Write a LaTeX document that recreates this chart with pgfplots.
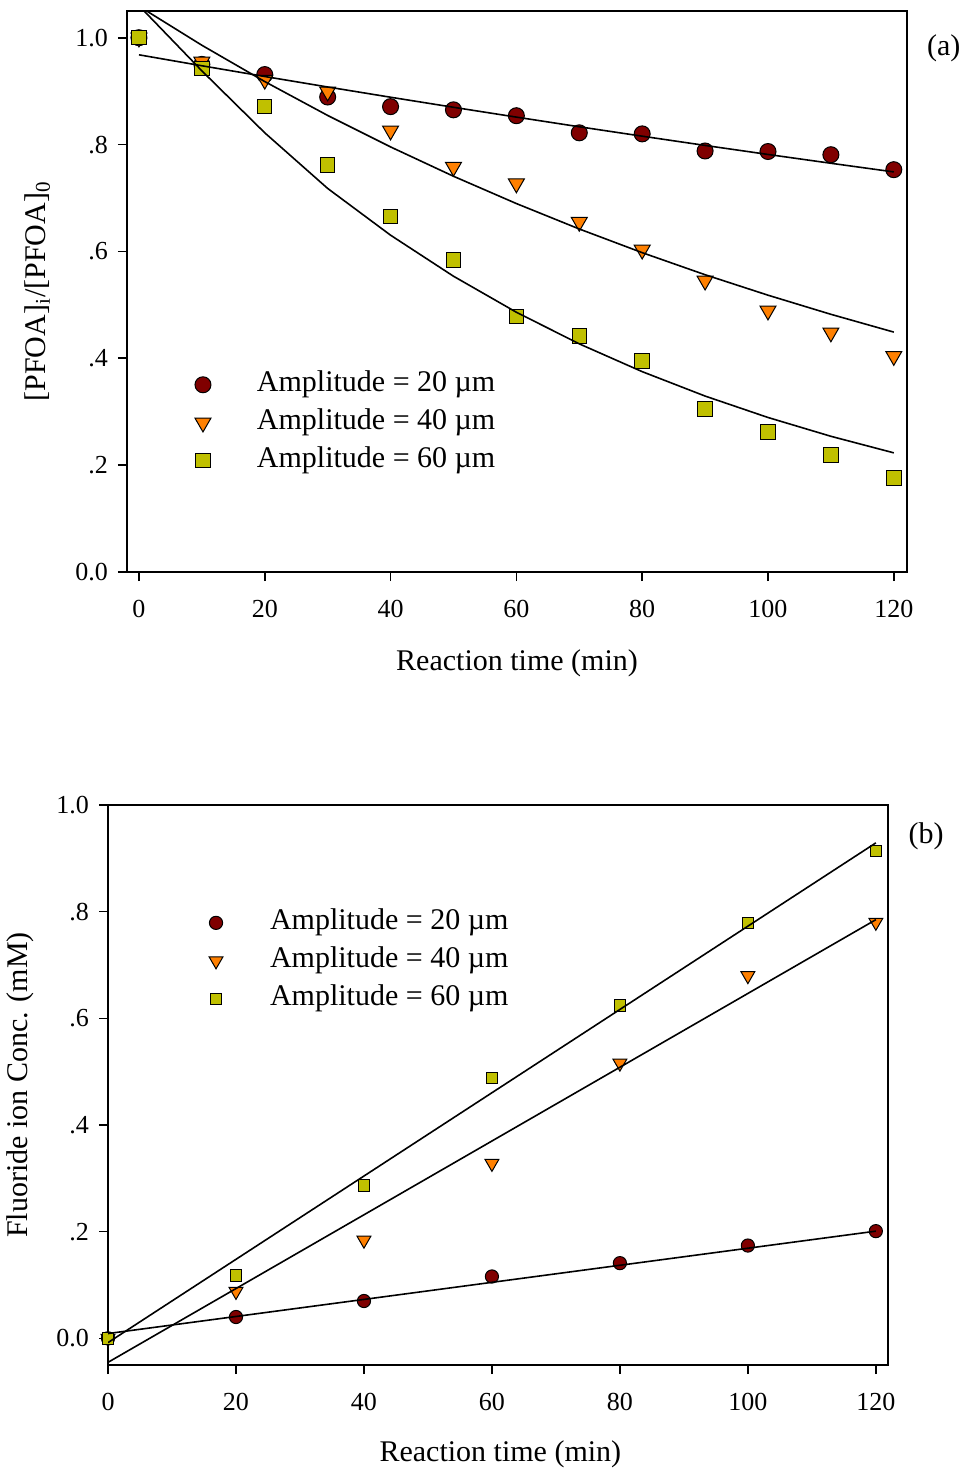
\documentclass[border=0pt]{standalone}
\usepackage{fontspec}
\setmainfont{Liberation Serif}
\usepackage{pgfplots}
\pgfplotsset{compat=1.18}
\definecolor{cred}{RGB}{128,0,0}
\definecolor{corange}{RGB}{255,128,0}
\definecolor{cyellow}{RGB}{192,192,0}

\pgfplotstableread{
x c t s
0 1.000 1.000 1.000
10 0.950 0.955 0.942
20 0.931 0.921 0.871
30 0.889 0.899 0.762
40 0.871 0.826 0.665
50 0.865 0.758 0.584
60 0.854 0.727 0.478
70 0.822 0.655 0.442
80 0.820 0.603 0.395
90 0.788 0.545 0.305
100 0.787 0.489 0.262
110 0.781 0.448 0.219
120 0.753 0.404 0.176
}\toptable

\pgfplotstableread{
x f20 f40 f60
0 0.968 1.059 1.060
10 0.9475 0.9859 0.938
20 0.9274 0.9179 0.822
30 0.9078 0.8545 0.7179
40 0.8886 0.7956 0.6304
50 0.8698 0.7407 0.5536
60 0.8514 0.6896 0.4862
70 0.8333 0.6420 0.4270
80 0.8157 0.5977 0.3750
90 0.7984 0.5564 0.3293
100 0.7815 0.5181 0.2892
110 0.7650 0.4823 0.2540
120 0.7488 0.4490 0.2230
}\topfit

\pgfplotstableread{
x c t s
0 0.000 0.000 0.000
20 0.040 0.088 0.118
40 0.070 0.184 0.287
60 0.116 0.328 0.488
80 0.141 0.516 0.624
100 0.174 0.680 0.779
120 0.201 0.780 0.914
}\bottable

\pgfplotstableread{
x f20 f40 f60
0 0.009 -0.045 -0.008
120 0.201 0.785 0.929
}\botfit

\pgfplotsset{
 common/.style={
  scale only axis, width=390pt, clip mode=individual,
  axis line style={line width=0.9pt},
  every tick/.style={black, line width=0.8pt},
  tick align=outside, major tick length=4.5pt,
  xtick pos=bottom, ytick pos=left,
  xtick={0,20,40,60,80,100,120},
  xticklabels={0,20,40,60,80,100,120},
  ytick={0,0.2,0.4,0.6,0.8,1.0},
  yticklabels={0.0,.2,.4,.6,.8,1.0},
  tick label style={font=\fontsize{13}{15}\selectfont},
  xticklabel style={yshift=-6pt},
  yticklabel style={xshift=-1.5pt},
  label style={font=\fontsize{15}{18}\selectfont},
  legend style={draw=none, fill=none, inner sep=0pt, outer sep=0pt,
    row sep=5pt, font=\fontsize{15}{18}\selectfont,
    nodes={inner sep=0pt, text height=10.5pt, text depth=3.5pt}},
  legend cell align=left,
  legend image code/.code={\path[draw=none] (-8.5pt,0pt) -- (27pt,0pt); \draw[##1] plot[only marks] coordinates {(0pt,0pt)};},
 },
 fitline/.style={black, line width=0.8pt, no markers, forget plot},
}

\begin{document}
\begin{tikzpicture}
\useasboundingbox (0,0) rectangle (483pt,-735pt);
\begin{axis}[common, height=280.5pt,
  at={(63.5pt,-5.5pt)}, anchor=north west,
  xmin=-1.9, xmax=122.1, ymin=0, ymax=1.05,
  xlabel={Reaction time (min)},
  ylabel={[PFOA]\textsubscript{i}/[PFOA]\textsubscript{0}},
  xlabel style={at={(axis description cs:0.5,-0.162)}, anchor=center},
  ylabel style={at={(axis description cs:-0.115,0.5)}, anchor=center},
  legend style={at={(axis description cs:0.0756,0.2660)}, anchor=west},
]
\addplot[only marks, mark=*, mark size=4pt, mark options={fill=cred, draw=black, line width=0.5pt}] table[x=x,y=c] {\toptable};
\addlegendentry{Amplitude = 20 µm}
\addplot[only marks, mark=triangle*, mark size=4.6pt, mark options={rotate=180, fill=corange, draw=black, line width=0.5pt}] table[x=x,y=t] {\toptable};
\addlegendentry{Amplitude = 40 µm}
\addplot[only marks, mark=square*, mark size=3.6pt, mark options={fill=cyellow, draw=black, line width=0.5pt}] table[x=x,y=s] {\toptable};
\addlegendentry{Amplitude = 60 µm}
\addplot[fitline] table[x=x,y=f20] {\topfit};
\addplot[fitline] table[x=x,y=f40] {\topfit};
\addplot[fitline] table[x=x,y=f60] {\topfit};
\node[font=\fontsize{15}{18}\selectfont] at (axis description cs:1.047,0.934) {(a)};
\end{axis}

\begin{axis}[common, height=280pt,
  at={(54pt,-402.5pt)}, anchor=north west,
  xmin=0, xmax=121.9, ymin=-0.05, ymax=1.0,
  xlabel={Reaction time (min)},
  ylabel={Fluoride ion Conc. (mM)},
  xlabel style={at={(axis description cs:0.503,-0.16)}, anchor=center},
  ylabel style={at={(axis description cs:-0.113,0.5)}, anchor=center},
  legend style={at={(axis description cs:0.1167,0.7217)}, anchor=west},
]
\addplot[only marks, mark=*, mark size=3.3pt, mark options={fill=cred, draw=black, line width=0.5pt}] table[x=x,y=c] {\bottable};
\addlegendentry{Amplitude = 20 µm}
\addplot[only marks, mark=triangle*, mark size=4pt, mark options={rotate=180, fill=corange, draw=black, line width=0.5pt}] table[x=x,y=t] {\bottable};
\addlegendentry{Amplitude = 40 µm}
\addplot[only marks, mark=square*, mark size=2.9pt, mark options={fill=cyellow, draw=black, line width=0.5pt}] table[x=x,y=s] {\bottable};
\addlegendentry{Amplitude = 60 µm}
\addplot[fitline] table[x=x,y=f20] {\botfit};
\addplot[fitline] table[x=x,y=f40] {\botfit};
\addplot[fitline] table[x=x,y=f60] {\botfit};
\node[font=\fontsize{15}{18}\selectfont] at (axis description cs:1.049,0.945) {(b)};
\end{axis}
\end{tikzpicture}
\end{document}
